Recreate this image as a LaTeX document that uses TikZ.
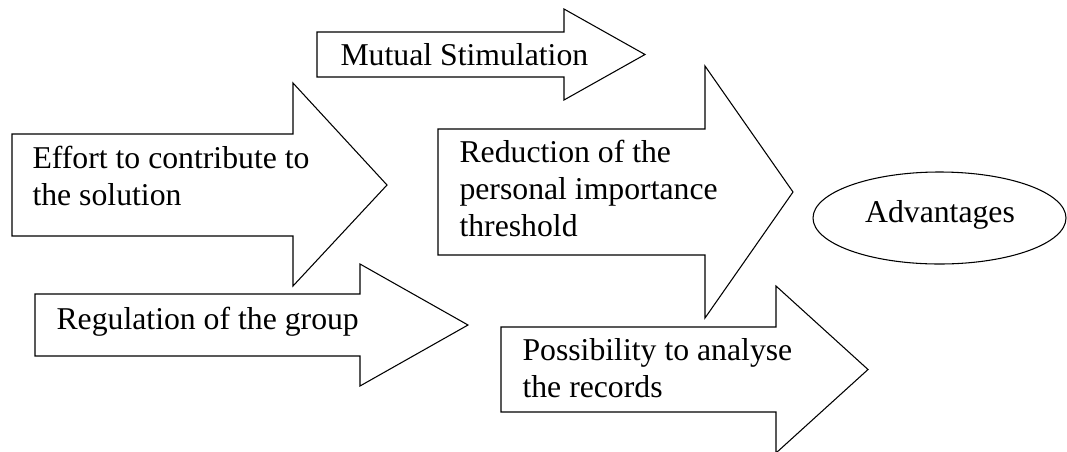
\documentclass[tikz,border=0pt]{standalone}
\usepackage{fontspec}
\setmainfont{Liberation Serif}
\begin{document}
\begin{tikzpicture}[x=0.75pt,y=-0.75pt,line width=0.8pt,
    lbl/.style={anchor=base west,align=left,inner sep=0pt,
        font=\fontsize{23.8}{27.4}\selectfont}]
    \useasboundingbox (0,0) rectangle (1067,451);

    \draw (317,32) -- (564,32) -- (564,9) -- (645,54.5) -- (564,100) -- (564,77) -- (317,77) -- cycle;
    \node[lbl] (mutual) at (340,65) {Mutual Stimulation};

    \draw (12,134) -- (293,134) -- (293,83) -- (387,185) -- (293,286) -- (293,236) -- (12,236) -- cycle;
    \node[lbl] (effort) at (32,205) {Effort to contribute to\\the solution};

    \draw (35,294) -- (360,294) -- (360,264) -- (468,325) -- (360,386) -- (360,356) -- (35,356) -- cycle;
    \node[lbl] (regul) at (56,329) {Regulation of the group};

    \draw (438,129) -- (705,129) -- (705,66) -- (793,192) -- (705,318) -- (705,255) -- (438,255) -- cycle;
    \node[lbl] (reduct) at (459,236) {Reduction of the\\personal importance\\threshold};

    \draw (501,327) -- (776,327) -- (776,286) -- (868,369.5) -- (776,453) -- (776,412) -- (501,412) -- cycle;
    \node[lbl] (records) at (522,397) {Possibility to analyse\\the records};

    \draw (939.5,218) ellipse [x radius=126.5, y radius=46];
    \node[lbl,anchor=base] (adv) at (940,222) {Advantages};
\end{tikzpicture}
\end{document}
